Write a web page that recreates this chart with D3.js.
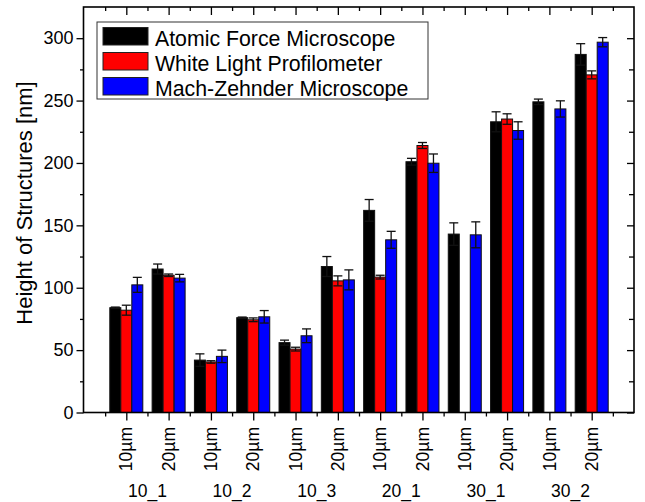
<!DOCTYPE html>
<html>
<head>
<meta charset="utf-8">
<script src="https://cdn.jsdelivr.net/npm/d3@7"></script>
<style>
  html, body { margin: 0; padding: 0; background: #fff; }
  svg { display: block; font-family: "Liberation Sans", Arial, sans-serif; }
</style>
</head>
<body>
<svg id="chart" width="645" height="502"></svg>
<script>
// Sample sizes (per structure) and the structure names they belong to
const sizes = ["10µm", "20µm", "10µm", "20µm", "10µm", "20µm", "10µm", "20µm", "10µm", "20µm", "10µm", "20µm"];
const structures = ["10_1", "10_2", "10_3", "20_1", "30_1", "30_2"];

// Measured heights [nm] and their uncertainties, one entry per sample
const afm     = [84, 115, 42, 76, 56, 117, 162, 201, 143, 233, 249, 287];
const afmErr  = [0.5, 4, 5, 0.5, 2, 8, 8.7, 2.7, 9, 8, 2.2, 8.6];
const wlp     = [82, 110, 40.5, 74.3, 50.8, 105.5, 108.5, 214, null, 235.2, null, 270.6];
const wlpErr  = [4, 1, 1, 1.5, 1.5, 4, 1.5, 2.4, null, 4.2, null, 3.2];
const mzm     = [102.3, 107.7, 45, 76.7, 61.5, 106.3, 138.4, 199.8, 142.4, 226, 243.3, 296.8];
const mzmErr  = [6, 3, 5, 5, 5.5, 8, 6.8, 7.4, 10.4, 7, 6.5, 3.7];

const seriesNames = ["Atomic Force Microscope", "White Light Profilometer", "Mach-Zehnder Microscope"];
const seriesColors = ["#000000", "#ff0000", "#0000ff"];

const yMajor = [0, 50, 100, 150, 200, 250, 300];
const yMinor = [25, 75, 125, 175, 225, 275];

const svg = d3.select("#chart");
const pLeft = 83.5, pRight = 634, pTop = 7, pBottom = 412.5;

const x = d3.scaleLinear().domain([0, 13]).range([84, 634]);
const y = d3.scaleLinear().domain([0, 325]).range([pBottom, pTop]);

const series = [
  { name: seriesNames[0], color: seriesColors[0], values: afm, errs: afmErr, offset: -1 },
  { name: seriesNames[1], color: seriesColors[1], values: wlp, errs: wlpErr, offset: 0 },
  { name: seriesNames[2], color: seriesColors[2], values: mzm, errs: mzmErr, offset: 1 }
];
const barUnits = 0.26;
const barW = x(barUnits) - x(0);

// Bars
const gBars = svg.append("g");
series.forEach(s => {
  s.values.forEach((v, i) => {
    if (v == null) return;
    const cx = x(i + 1 + s.offset * barUnits);
    gBars.append("rect")
      .attr("x", cx - barW / 2)
      .attr("y", y(v))
      .attr("width", barW)
      .attr("height", y(0) - y(v))
      .attr("fill", s.color)
      .attr("stroke", "#111")
      .attr("stroke-width", 1);
  });
});

// Error bars
const gErr = svg.append("g").attr("stroke", "#111").attr("stroke-width", 1.3);
series.forEach(s => {
  s.values.forEach((v, i) => {
    if (v == null || s.errs[i] == null) return;
    const cx = x(i + 1 + s.offset * barUnits);
    const e = s.errs[i];
    const cap = 4.5;
    gErr.append("line").attr("x1", cx).attr("x2", cx).attr("y1", y(v - e)).attr("y2", y(v + e));
    gErr.append("line").attr("x1", cx - cap).attr("x2", cx + cap).attr("y1", y(v + e)).attr("y2", y(v + e));
    gErr.append("line").attr("x1", cx - cap).attr("x2", cx + cap).attr("y1", y(v - e)).attr("y2", y(v - e));
  });
});

// Axes with major and minor ticks
const majorX = d3.range(1, 13);
const minorX = d3.range(0.5, 13, 1);

function styleAxis(g) {
  g.select(".domain").remove();
  g.selectAll("line").attr("stroke", "#000").attr("stroke-width", 1.3);
}

svg.append("g").attr("transform", `translate(${pLeft},0)`)
  .call(d3.axisLeft(y).tickValues(yMajor).tickSize(7).tickPadding(3).tickFormat(d3.format("d")))
  .call(styleAxis)
  .selectAll("text").attr("font-size", 18).attr("fill", "#000")
  .attr("font-family", "Liberation Sans, Arial, sans-serif");
svg.append("g").attr("transform", `translate(${pLeft},0)`)
  .call(d3.axisLeft(y).tickValues(yMinor).tickSize(3.5).tickFormat(""))
  .call(styleAxis);

svg.append("g").attr("transform", `translate(${pRight},0)`)
  .call(d3.axisRight(y).tickValues(yMajor).tickSize(-7).tickFormat(""))
  .call(styleAxis);
svg.append("g").attr("transform", `translate(${pRight},0)`)
  .call(d3.axisRight(y).tickValues(yMinor).tickSize(-5).tickFormat(""))
  .call(styleAxis);

svg.append("g").attr("transform", `translate(0,${pBottom})`)
  .call(d3.axisBottom(x).tickValues(majorX).tickSize(8).tickFormat(""))
  .call(styleAxis);
svg.append("g").attr("transform", `translate(0,${pBottom})`)
  .call(d3.axisBottom(x).tickValues(minorX).tickSize(4).tickFormat(""))
  .call(styleAxis);

svg.append("g").attr("transform", `translate(0,${pTop})`)
  .call(d3.axisTop(x).tickValues(majorX).tickSize(-8).tickFormat(""))
  .call(styleAxis);
svg.append("g").attr("transform", `translate(0,${pTop})`)
  .call(d3.axisTop(x).tickValues(minorX).tickSize(-4).tickFormat(""))
  .call(styleAxis);

// Plot frame
svg.append("rect")
  .attr("x", pLeft).attr("y", pTop)
  .attr("width", pRight - pLeft).attr("height", pBottom - pTop)
  .attr("fill", "none").attr("stroke", "#000").attr("stroke-width", 1.6);

// Sample size labels (rotated) and structure names
svg.append("g").selectAll("text")
  .data(sizes)
  .join("text")
  .attr("transform", (d, i) => `translate(${x(i + 1)},427) rotate(-90)`)
  .attr("dy", "0.35em")
  .attr("text-anchor", "end")
  .attr("font-size", 17.5)
  .text(d => d);

svg.append("g").selectAll("text")
  .data(structures)
  .join("text")
  .attr("x", (d, i) => x(2 * i + 1.5))
  .attr("y", 497)
  .attr("text-anchor", "middle")
  .attr("font-size", 17.5)
  .text(d => d);

// Y axis title
svg.append("text")
  .attr("transform", "translate(32,203) rotate(-90)")
  .attr("text-anchor", "middle")
  .attr("font-size", 22)
  .text("Height of Structures [nm]");

// Legend
const legend = svg.append("g");
legend.append("rect")
  .attr("x", 97).attr("y", 22).attr("width", 331).attr("height", 77)
  .attr("fill", "#fff").attr("stroke", "#333").attr("stroke-width", 1);
series.forEach((s, k) => {
  legend.append("rect")
    .attr("x", 103).attr("y", 27.5 + k * 25).attr("width", 45).attr("height", 17.5)
    .attr("fill", s.color).attr("stroke", "#222").attr("stroke-width", 1);
  legend.append("text")
    .attr("x", 155).attr("y", 46 + k * 25)
    .attr("font-size", 21.3)
    .text(s.name);
});
</script>
</body>
</html>
